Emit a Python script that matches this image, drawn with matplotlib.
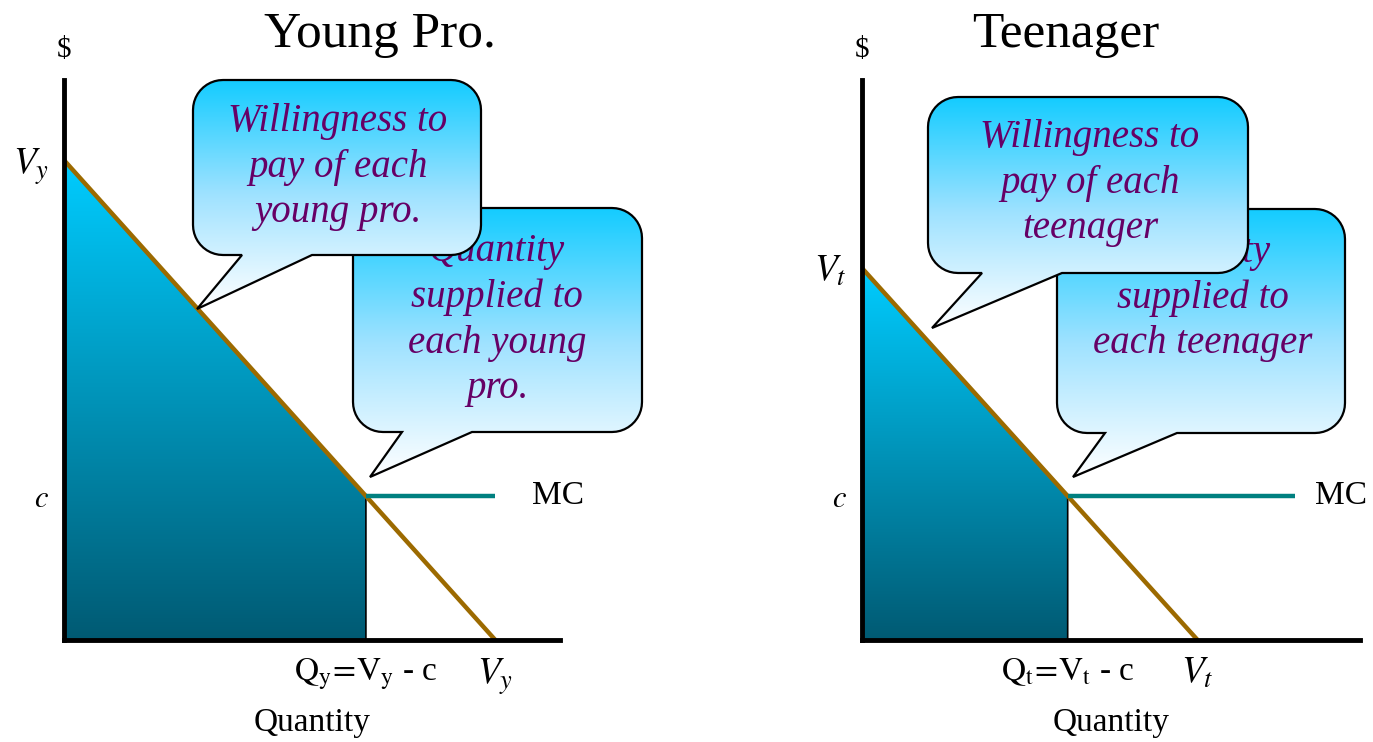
import numpy as np
import matplotlib
matplotlib.use("Agg")
import matplotlib.pyplot as plt
from matplotlib.patches import Polygon
from matplotlib.colors import LinearSegmentedColormap

# --- chart values (economic units) ---
titles = ["Young Pro.", "Teenager"]
subs = ["y", "t"]
valuation = [10.0, 7.75]      # V_y, V_t : demand intercepts
cost = 3.0                    # marginal cost c
mc_end = 10.0                 # MC line drawn out to this quantity
mc_label_x = [10.85, 10.45]

bubble_text_1 = ["Willingness to\npay of each\nyoung pro.",
                 "Willingness to\npay of each\nteenager"]
bubble_text_2 = ["Quantity\nsupplied to\neach young\npro.",
                 "Quantity\nsupplied to\neach teenager"]

plt.rcParams["font.family"] = ["Liberation Serif", "DejaVu Serif"]
plt.rcParams["mathtext.fontset"] = "stix"

W, H = 1373, 742
fig = plt.figure(figsize=(W / 100, H / 100), dpi=100)
fig.patch.set_facecolor("white")

BROWN = "#9c6a00"
TEAL = "#008080"
PURPLE = "#660066"
shade_cmap = LinearSegmentedColormap.from_list("shade", ["#005a73", "#0093b8", "#00ccff"])
bubble_cmap = LinearSegmentedColormap.from_list("bub", ["#14ccff", "#9fe2ff", "#ffffff"])

ax_left = [64, 862]
ax_w = [496, 498]
top_px, bot_px = 80, 640
XMAX, YMAX = 11.5, 11.67

axes = []
for i in range(2):
    ax = fig.add_axes([ax_left[i] / W, (H - bot_px) / H, ax_w[i] / W, (bot_px - top_px) / H])
    axes.append(ax)
    V = valuation[i]
    Q = V - cost

    # area under demand up to Q, gradient filled
    poly = Polygon([(0, 0), (0, V), (Q, cost), (Q, 0)], closed=True,
                   facecolor="none", edgecolor="black", lw=1.2, zorder=3)
    ax.add_patch(poly)
    grad = np.linspace(0, 1, 256).reshape(-1, 1)
    im = ax.imshow(grad, cmap=shade_cmap, origin="lower", aspect="auto",
                   extent=(0, Q, 0, V), zorder=2)
    im.set_clip_path(poly)

    # demand and MC
    ax.plot([0, V], [V, 0], color=BROWN, lw=3.2, zorder=4, solid_capstyle="butt")
    ax.plot([Q, mc_end], [cost, cost], color=TEAL, lw=3.2, zorder=4, solid_capstyle="butt")
    ax.text(mc_label_x[i], cost, "MC", fontsize=24, va="center", ha="left")

    for s in ["top", "right"]:
        ax.spines[s].set_visible(False)
    for s in ["left", "bottom"]:
        ax.spines[s].set_linewidth(3.5)
        ax.spines[s].set_zorder(5)
    ax.set_xlim(0, XMAX)
    ax.set_ylim(0, YMAX)

    ax.set_yticks([cost, V])
    ax.set_yticklabels([r"$c$", r"$V_%s$" % subs[i]])
    ylabels = ax.get_yticklabels()
    ylabels[0].set_fontsize(22)
    ylabels[1].set_fontsize(27)
    ax.tick_params(axis="y", length=0, pad=11)

    ax.set_xticks([Q, V])
    ax.set_xticklabels([r"$\mathrm{Q_%s\!=\!V_%s}$ - c" % (subs[i], subs[i]),
                        r"$V_%s$" % subs[i]])
    xlabels = ax.get_xticklabels()
    xlabels[0].set_fontsize(24)
    xlabels[1].set_fontsize(27)
    ax.tick_params(axis="x", length=0, pad=12)

    ax.text(0.5, -0.148, "Quantity", transform=ax.transAxes, ha="center",
            va="center", fontsize=24)
    ax.text(0, 1.054, "$", transform=ax.transAxes, ha="center", va="center",
            fontsize=21)

axes[0].text(0.637, 1.08, titles[0], transform=axes[0].transAxes, ha="center",
             va="center", fontsize=37)
axes[1].text(0.41, 1.08, titles[1], transform=axes[1].transAxes, ha="center",
             va="center", fontsize=37)

# --- overlay in pixel coords for the speech bubbles ---
ov = fig.add_axes([0, 0, 1, 1], zorder=10)
ov.set_xlim(0, W)
ov.set_ylim(H, 0)
ov.axis("off")


def bubble_path(x0, y0, x1, y1, r, bl, br, tip, n=12):
    pts = []

    def arc(cx, cy, a0, a1):
        for t in np.linspace(np.radians(a0), np.radians(a1), n):
            pts.append((cx + r * np.cos(t), cy + r * np.sin(t)))

    arc(x1 - r, y0 + r, -90, 0)
    arc(x1 - r, y1 - r, 0, 90)
    pts.append((br, y1))
    pts.append(tip)
    pts.append((bl, y1))
    arc(x0 + r, y1 - r, 90, 180)
    arc(x0 + r, y0 + r, 180, 270)
    return pts


def draw_bubble(rect, bl, br, tip, text, tx, ty, z):
    x0, y0, x1, y1 = rect
    patch = Polygon(bubble_path(x0, y0, x1, y1, 30, bl, br, tip), closed=True,
                    facecolor="none", edgecolor="black", lw=1.6, zorder=z + 0.2)
    ov.add_patch(patch)
    g = np.linspace(0, 1, 256).reshape(-1, 1)
    im = ov.imshow(g, cmap=bubble_cmap, origin="upper", aspect="auto",
                   extent=(x0, x1, tip[1], y0), zorder=z)
    im.set_clip_path(patch)
    ov.text(tx, ty, text, ha="center", va="center", fontsize=28, style="italic",
            color=PURPLE, linespacing=1.3, zorder=z + 0.3)


# left panel bubbles
draw_bubble((353, 208, 642, 432), 402, 472, (370, 477), bubble_text_2[0], 497, 320, 1)
draw_bubble((193, 80, 481, 255), 242, 312, (197, 309), bubble_text_1[0], 338, 167, 2)
# right panel bubbles
draw_bubble((1057, 209, 1345, 433), 1105, 1177, (1073, 477), bubble_text_2[1], 1203, 298, 1)
draw_bubble((928, 97, 1248, 273), 982, 1062, (932, 328), bubble_text_1[1], 1090, 183, 2)

ov.set_xlim(0, W)
ov.set_ylim(H, 0)

fig.savefig("out.png", dpi=100, facecolor="white")
